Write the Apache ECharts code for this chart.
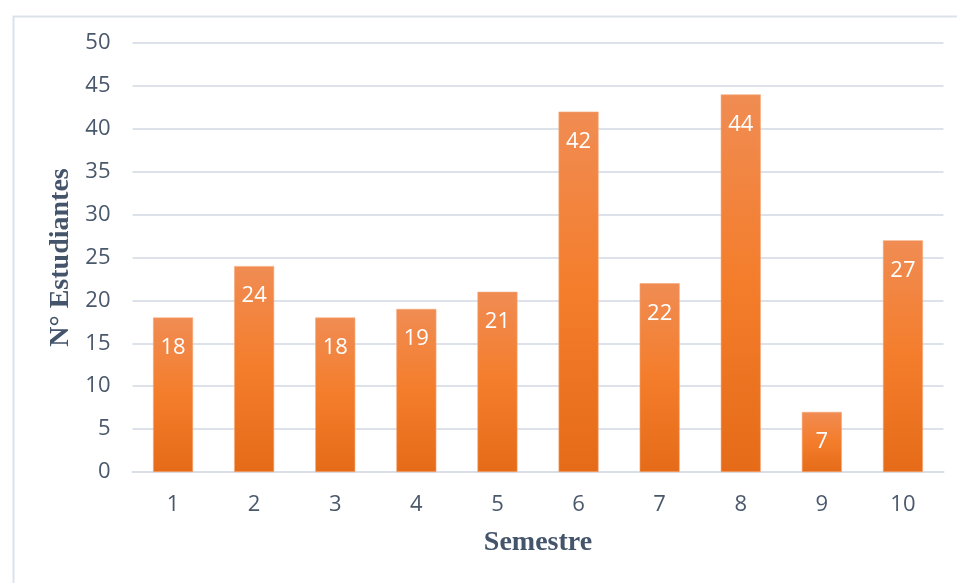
<!DOCTYPE html>
<html>
<head>
<meta charset="utf-8">
<script src="https://cdn.jsdelivr.net/npm/echarts@6/dist/echarts.min.js"></script>
<style>
  html, body { margin: 0; padding: 0; background: #ffffff; }
  #chart { width: 957px; height: 583px; }
</style>
</head>
<body>
<div id="chart"></div>
<script>
// Students per semester
const semesters = ['1', '2', '3', '4', '5', '6', '7', '8', '9', '10'];
const students = [18, 24, 18, 19, 21, 42, 22, 44, 7, 27];
const yTicks = { min: 0, max: 50, interval: 5 };

const chart = echarts.init(document.getElementById('chart'), null, { renderer: 'canvas' });

const barGradient = new echarts.graphic.LinearGradient(0, 0, 0, 1, [
  { offset: 0, color: '#F08C53' },
  { offset: 0.5, color: '#F47D2B' },
  { offset: 1, color: '#E56B18' }
]);

chart.setOption({
  animation: false,
  backgroundColor: '#ffffff',
  graphic: [{
    type: 'rect',
    left: 11, top: 14,
    shape: { width: 1000, height: 620 },
    style: { fill: 'none', stroke: '#DCE2EC', lineWidth: 2 },
    silent: true
  }],
  grid: { left: 132.5, right: 13.5, top: 43, bottom: 111 },
  xAxis: {
    type: 'category',
    data: semesters,
    name: 'Semestre',
    nameLocation: 'middle',
    nameGap: 57,
    nameTextStyle: { fontFamily: 'Liberation Serif', fontWeight: 'bold', fontSize: 28, color: '#44546A' },
    axisLine: { show: true, lineStyle: { color: '#D9DEE7', width: 2 } },
    axisTick: { show: false },
    axisLabel: { fontFamily: 'Open Sans', fontSize: 22, color: '#4A586C', margin: 22 }
  },
  yAxis: {
    type: 'value',
    min: yTicks.min, max: yTicks.max, interval: yTicks.interval,
    name: 'N° Estudiantes',
    nameLocation: 'middle',
    nameGap: 56,
    nameTextStyle: { fontFamily: 'Liberation Serif', fontWeight: 'bold', fontSize: 28, color: '#44546A' },
    axisLine: { show: false },
    axisTick: { show: false },
    axisLabel: { fontFamily: 'Open Sans', fontSize: 22, color: '#4A586C', margin: 22 },
    splitLine: { lineStyle: { color: '#DCE1EA', width: 2 } }
  },
  series: [{
    type: 'bar',
    data: students,
    barWidth: 40,
    itemStyle: { color: barGradient, borderColor: '#F7A777', borderWidth: 0.6 },
    label: {
      show: true,
      position: 'insideTop',
      distance: 19,
      fontFamily: 'Open Sans',
      fontSize: 22,
      color: '#FFFFFF'
    }
  }]
});
</script>
</body>
</html>
